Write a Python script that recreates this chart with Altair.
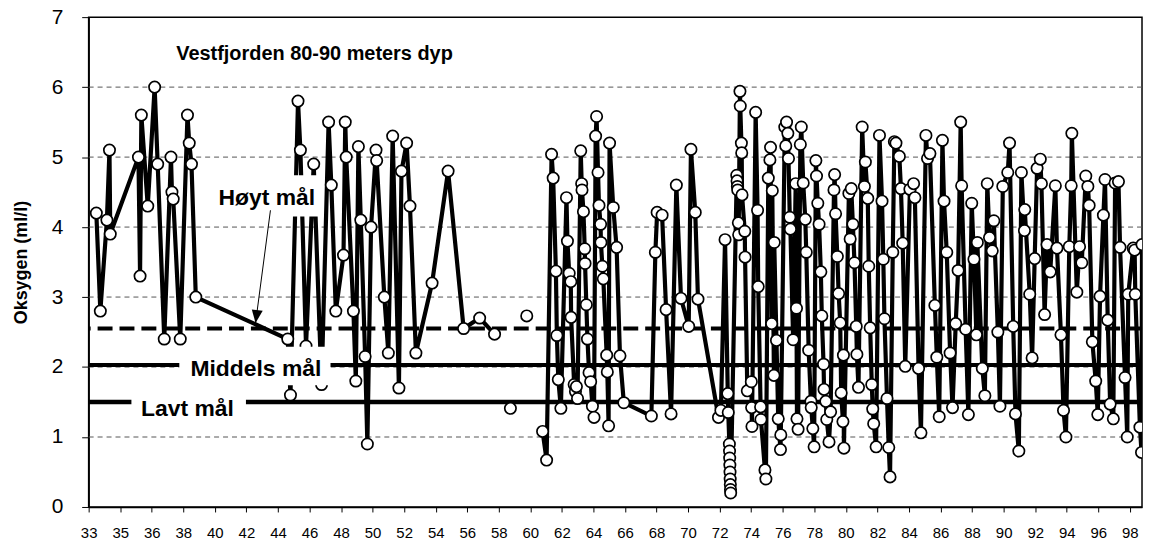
import json
import altair as alt
import pandas as pd

# ---------------- data ----------------
TITLE = "Vestfjorden 80-90 meters dyp"
Y_TITLE = "Oksygen (ml/l)"
X_TICK_LABELS = ["33", "35", "36", "38", "40", "42", "44", "46", "48", "50", "52",
                 "54", "56", "58", "60", "62", "64", "66", "68", "70", "72", "74",
                 "76", "78", "80", "82", "84", "86", "88", "90", "92", "94", "96", "98"]
Y_TICKS = [0, 1, 2, 3, 4, 5, 6, 7]
GRID_LEVELS = [1, 2, 3, 4, 5, 6]

# (year, oxygen ml/l) – connected segment 1933-1958
SERIES_1 = [(33.48, 4.2), (33.73, 2.8), (34.14, 4.1), (34.30, 5.1), (34.35, 3.9),
            (36.11, 5.0), (36.21, 3.3), (36.29, 5.6), (36.69, 4.3), (37.12, 6.0),
            (37.31, 4.9), (37.72, 2.4), (38.14, 5.0), (38.20, 4.5), (38.28, 4.4),
            (38.72, 2.4), (39.17, 5.6), (39.28, 5.2), (39.42, 4.9), (39.69, 3.0),
            (45.43, 2.4), (45.60, 1.6), (46.07, 5.8), (46.22, 5.1), (46.57, 2.3),
            (47.05, 4.9), (47.54, 1.75), (47.98, 5.5), (48.15, 4.6), (48.43, 2.8),
            (48.91, 3.6), (49.02, 5.5), (49.08, 5.0), (49.53, 2.8), (49.68, 1.8),
            (49.84, 5.15), (49.99, 4.1), (50.26, 2.15), (50.40, 0.9), (50.63, 4.0),
            (50.94, 5.1), (50.98, 4.95), (51.46, 3.0), (51.71, 2.2), (51.98, 5.3),
            (52.37, 1.7), (52.53, 4.8), (52.85, 5.2), (53.06, 4.3), (53.43, 2.2),
            (54.44, 3.2), (55.44, 4.8), (56.41, 2.55), (57.41, 2.7), (58.34, 2.47)]
# isolated samples
SERIES_2 = [(59.33, 1.41)]
SERIES_3 = [(60.35, 2.73)]
# connected segment 1961-1998
SERIES_4 = [(61.34, 1.08), (61.59, 0.67), (61.90, 5.04), (62.00, 4.70), (62.17, 3.37),
            (62.23, 2.45), (62.32, 1.82), (62.48, 1.41), (62.83, 4.42), (62.89, 3.80),
            (63.00, 3.34), (63.10, 3.22), (63.12, 2.71), (63.31, 1.75), (63.39, 1.65),
            (63.45, 1.72), (63.52, 1.55), (63.72, 5.09), (63.78, 4.62), (63.80, 4.53),
            (63.89, 4.22), (63.97, 3.69), (63.99, 3.48), (64.07, 2.89), (64.14, 2.40),
            (64.24, 1.92), (64.34, 1.79), (64.45, 1.44), (64.55, 1.28), (64.65, 5.30),
            (64.71, 5.58), (64.80, 4.78), (64.86, 4.31), (64.96, 4.04), (64.98, 3.78),
            (65.07, 3.44), (65.13, 3.26), (65.34, 2.17), (65.38, 1.93), (65.46, 1.16),
            (65.52, 5.20), (65.75, 4.28), (65.96, 3.71), (66.17, 2.16), (66.41, 1.49),
            (68.13, 1.30), (68.38, 3.64), (68.49, 4.21), (68.80, 4.17), (69.05, 2.82),
            (69.36, 1.33), (69.69, 4.60), (69.98, 2.98), (70.46, 2.58), (70.60, 5.11),
            (70.87, 4.21), (71.04, 2.97), (72.32, 1.28), (72.47, 1.38), (72.73, 3.82),
            (72.90, 1.62), (72.93, 1.35), (73.00, 0.90), (73.01, 0.80), (73.02, 0.70),
            (73.03, 0.60), (73.04, 0.50), (73.05, 0.40), (73.06, 0.32), (73.07, 0.25),
            (73.08, 0.20), (73.46, 4.74), (73.48, 4.66), (73.50, 4.58), (73.52, 4.53),
            (73.56, 4.06), (73.58, 3.89), (73.66, 5.94), (73.68, 5.73), (73.75, 5.20),
            (73.77, 5.06), (73.79, 4.46), (73.96, 3.94), (73.98, 3.57), (74.12, 1.66),
            (74.37, 1.79), (74.39, 1.42), (74.41, 1.15), (74.64, 5.64), (74.76, 4.24),
            (74.80, 3.15), (74.95, 1.43), (74.97, 1.25), (75.22, 0.53), (75.28, 0.40),
            (75.43, 4.70), (75.53, 4.96), (75.57, 5.14), (75.64, 2.62), (75.68, 4.52),
            (75.78, 1.88), (75.80, 3.78), (75.94, 2.38), (76.05, 1.26), (76.19, 0.82),
            (76.21, 1.03), (76.46, 5.43), (76.52, 5.16), (76.57, 5.50), (76.65, 5.34),
            (76.69, 4.98), (76.77, 4.14), (76.81, 3.97), (76.98, 2.39), (77.14, 4.62),
            (77.19, 2.84), (77.22, 1.26), (77.29, 1.11), (77.43, 5.18), (77.49, 5.43),
            (77.61, 4.63), (77.74, 4.11), (77.80, 3.64), (77.95, 2.24), (78.09, 1.51),
            (78.11, 1.42), (78.21, 1.12), (78.29, 0.86), (78.40, 4.95), (78.44, 4.73),
            (78.52, 4.34), (78.60, 4.04), (78.71, 3.36), (78.77, 2.73), (78.88, 2.04),
            (78.91, 1.68), (79.02, 1.51), (79.08, 1.25), (79.22, 0.93), (79.32, 1.36),
            (79.53, 4.53), (79.57, 4.75), (79.63, 4.19), (79.74, 3.58), (79.82, 3.05),
            (79.92, 2.63), (79.98, 1.63), (80.09, 1.22), (80.12, 2.17), (80.15, 0.84),
            (80.46, 4.48), (80.54, 3.83), (80.61, 4.55), (80.71, 4.04), (80.81, 3.49),
            (80.92, 2.58), (80.96, 2.18), (81.06, 1.71), (81.29, 5.43), (81.43, 4.58),
            (81.49, 4.93), (81.64, 4.41), (81.70, 3.44), (81.79, 2.56), (81.89, 1.75),
            (81.95, 1.40), (82.01, 1.19), (82.16, 0.86), (82.37, 5.31), (82.53, 4.37),
            (82.61, 3.54), (82.68, 2.69), (82.84, 1.55), (82.95, 0.85), (83.03, 0.43),
            (83.20, 3.64), (83.30, 5.22), (83.40, 5.20), (83.61, 5.01), (83.71, 4.55),
            (83.82, 3.77), (83.98, 2.01), (84.27, 4.54), (84.50, 4.62), (84.58, 4.42),
            (84.81, 1.98), (84.96, 1.06), (85.27, 5.31), (85.37, 4.98), (85.52, 5.05),
            (85.83, 2.88), (85.95, 2.14), (86.10, 1.29), (86.30, 5.24), (86.40, 4.37),
            (86.57, 3.64), (86.78, 2.20), (86.93, 1.42), (87.13, 2.62), (87.28, 3.38),
            (87.44, 5.50), (87.50, 4.59), (87.75, 2.54), (87.92, 1.32), (88.13, 4.34),
            (88.27, 3.54), (88.42, 2.46), (88.48, 3.78), (88.79, 1.98), (88.95, 1.59),
            (89.10, 4.62), (89.24, 3.85), (89.41, 3.66), (89.51, 4.09), (89.76, 2.50),
            (89.89, 1.44), (90.07, 4.58), (90.38, 4.78), (90.49, 5.20), (90.72, 2.58),
            (90.86, 1.33), (91.07, 0.80), (91.23, 4.78), (91.42, 3.95), (91.44, 4.25),
            (91.75, 3.04), (91.90, 2.13), (92.06, 3.55), (92.21, 4.84), (92.41, 4.97),
            (92.48, 4.62), (92.68, 2.75), (92.83, 3.75), (93.03, 3.36), (93.35, 4.59),
            (93.45, 3.70), (93.70, 2.46), (93.86, 1.38), (94.01, 1.00), (94.22, 3.72),
            (94.34, 4.59), (94.38, 5.34), (94.69, 3.07), (94.86, 3.72), (95.00, 3.49),
            (95.25, 4.73), (95.38, 4.58), (95.46, 4.31), (95.66, 2.36), (95.87, 1.80),
            (96.00, 1.32), (96.14, 3.01), (96.35, 4.17), (96.45, 4.68), (96.62, 2.67),
            (96.77, 1.47), (96.97, 1.26), (97.08, 4.63), (97.29, 4.65), (97.39, 3.71),
            (97.70, 1.85), (97.84, 1.00), (97.90, 3.04), (98.21, 3.70), (98.30, 3.67),
            (98.34, 3.04), (98.63, 1.14), (98.73, 0.78), (98.76, 3.75)]

TARGET_NAMES = ["Høyt mål", "Middels mål", "Lavt mål"]
TARGET_VALUES = [2.55, 2.03, 1.50]

# ---------------- frames ----------------
rows = []
for seg_id, seg in enumerate([SERIES_1, SERIES_2, SERIES_3, SERIES_4]):
    for yr, ox in seg:
        rows.append({"year": yr, "oxygen": ox, "seg": seg_id})
df = pd.DataFrame(rows)

X_MIN, X_MAX = 33.0, 98.76
n_int = len(X_TICK_LABELS) - 1
X_TICK_VALUES = [X_MIN + i * 65.0 / n_int for i in range(len(X_TICK_LABELS))]
LABEL_EXPR = f"{json.dumps(X_TICK_LABELS)}[round((datum.value - 33) * {n_int} / 65)]"

FONT = "Liberation Sans"
x_scale = alt.Scale(domain=[X_MIN, X_MAX], nice=False, zero=False)
y_scale = alt.Scale(domain=[0, 7], nice=False, zero=True)

x_axis = alt.Axis(values=X_TICK_VALUES, labelExpr=LABEL_EXPR, title=None, grid=False,
                  domainColor="black", domainWidth=1.5, tickColor="black", tickSize=5,
                  labelFontSize=15, labelColor="black", labelPadding=14, labelFlush=False,
                  labelOverlap=False, labelFont=FONT)
y_axis = alt.Axis(values=Y_TICKS, title=Y_TITLE, titleFontSize=18, titleFontWeight="bold",
                  titleColor="black", titleFont=FONT, titleX=-67, titleY=246,
                  titleBaseline="middle", titleAlign="center", grid=False,
                  domainColor="black", domainWidth=1.5, tickColor="black", tickSize=7,
                  labelFontSize=21, labelPadding=19, labelColor="black", labelFont=FONT,
                  format="d")


def X(field):
    return alt.X(field, scale=x_scale, axis=x_axis, title=None)


def Y(field):
    return alt.Y(field, scale=y_scale, axis=y_axis, title=Y_TITLE)


base = alt.Chart(df)

grid = alt.Chart(pd.DataFrame({"g": GRID_LEVELS})).mark_rule(
    color="#555555", strokeWidth=1, strokeDash=[5, 4]
).encode(y=Y("g:Q"))

tdf = pd.DataFrame({"name": TARGET_NAMES, "value": TARGET_VALUES})
high = alt.Chart(tdf.iloc[[0]]).mark_rule(color="black", strokeWidth=4, strokeDash=[15, 7]).encode(
    y=Y("value:Q"))
mid = alt.Chart(tdf.iloc[[1]]).mark_rule(color="black", strokeWidth=4).encode(y=Y("value:Q"))
low = alt.Chart(tdf.iloc[[2]]).mark_rule(color="black", strokeWidth=4.5).encode(y=Y("value:Q"))

line = base.mark_line(color="black", strokeWidth=4.2, clip=True).encode(
    x=X("year:Q"), y=Y("oxygen:Q"), detail="seg:N", order="year:Q")
points = base.mark_point(shape="circle", filled=True, fill="white", stroke="black",
                         strokeWidth=1.7, size=130, opacity=1, clip=True).encode(
    x=X("year:Q"), y=Y("oxygen:Q"))

# annotation label boxes (white background) and texts
box_df = pd.DataFrame({
    "x1": [40.71, 38.66, 35.67],
    "x2": [47.67, 48.10, 42.82],
    "y1": [4.74, 2.29, 1.64],
    "y2": [4.15, 1.74, 1.18],
})
boxes = alt.Chart(box_df).mark_rect(fill="white").encode(
    x=X("x1:Q"), x2="x2:Q", y=Y("y1:Q"), y2="y2:Q")

lab_df = pd.DataFrame({"label": TARGET_NAMES, "x": [44.12, 43.44, 39.17], "y": [4.42, 1.97, 1.40]})
labels = alt.Chart(lab_df).mark_text(font=FONT, fontSize=23, fontWeight="bold", color="black",
                                     align="center", baseline="middle").encode(
    x=X("x:Q"), y=Y("y:Q"), text="label:N")

title_df = pd.DataFrame({"t": [TITLE], "x": [38.47], "y": [6.48]})
title = alt.Chart(title_df).mark_text(font=FONT, fontSize=20, fontWeight="bold", color="black",
                                      align="left", baseline="middle").encode(
    x=X("x:Q"), y=Y("y:Q"), text="t:N")

arrow_df = pd.DataFrame({"x": [44.35], "y": [4.24], "x2": [43.42], "y2": [2.63]})
arrow = alt.Chart(arrow_df).mark_rule(color="black", strokeWidth=1).encode(
    x=X("x:Q"), x2="x2:Q", y=Y("y:Q"), y2="y2:Q")
head = alt.Chart(arrow_df).mark_point(shape="M0,0L-0.85,-2L0.85,-2Z", filled=True, color="black",
                                      opacity=1, size=169, angle=7.6).encode(
    x=X("x2:Q"), y=Y("y2:Q"))

chart = alt.layer(grid, high, mid, low, line, points, boxes, labels, title, arrow, head).properties(
    width=1058, height=492,
    padding={"left": 81, "top": 8, "right": 2, "bottom": 36},
    autosize=alt.AutoSizeParams(type="none"),
).configure(font=FONT, view=alt.ViewConfig(stroke="black", strokeWidth=1.5))

chart.save("out.html", embed_options={"renderer": "svg", "actions": False})
